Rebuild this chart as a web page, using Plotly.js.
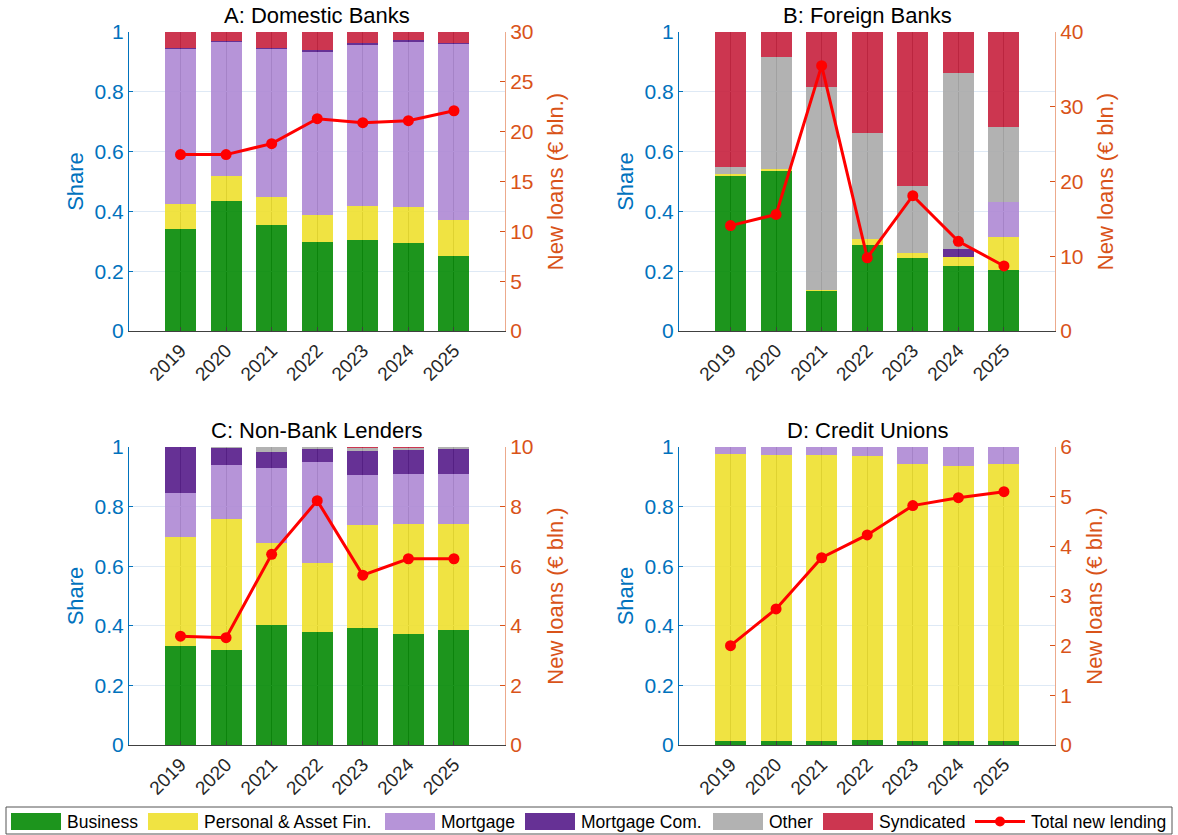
<!DOCTYPE html>
<html>
<head>
<meta charset="utf-8">
<script src="https://cdn.plot.ly/plotly-3.0.1.min.js"></script>
<style>
  html, body { margin: 0; padding: 0; background: #fff; }
  #chart { width: 1178px; height: 835px; }
</style>
</head>
<body>
<div id="chart"></div>
<script>
// ---- Data -------------------------------------------------------------
const years = ['2019', '2020', '2021', '2022', '2023', '2024', '2025'];

const seriesNames = ['Business', 'Personal & Asset Fin.', 'Mortgage', 'Mortgage Com.', 'Other', 'Syndicated'];
const lineName = 'Total new lending';

const panelTitles = ['A: Domestic Banks', 'B: Foreign Banks', 'C: Non-Bank Lenders', 'D: Credit Unions'];

// A: Domestic Banks (shares of new lending)
const domesticBusiness    = [0.341, 0.435, 0.355, 0.297, 0.304, 0.293, 0.250];
const domesticPersonal    = [0.085, 0.085, 0.093, 0.091, 0.114, 0.122, 0.120];
const domesticMortgage    = [0.517, 0.447, 0.494, 0.544, 0.539, 0.553, 0.589];
const domesticMortgageCom = [0.003, 0.003, 0.003, 0.007, 0.005, 0.005, 0.005];
const domesticOther       = [0, 0, 0, 0, 0, 0, 0];
const domesticSyndicated  = [0.054, 0.030, 0.055, 0.061, 0.038, 0.027, 0.036];
const domesticTotal       = [17.7, 17.7, 18.8, 21.3, 20.9, 21.1, 22.1];

// B: Foreign Banks
const foreignBusiness    = [0.520, 0.535, 0.135, 0.287, 0.245, 0.217, 0.204];
const foreignPersonal    = [0.005, 0.006, 0.003, 0.020, 0.017, 0.029, 0.109];
const foreignMortgage    = [0, 0, 0, 0.002, 0, 0, 0.120];
const foreignMortgageCom = [0, 0, 0, 0, 0, 0.029, 0];
const foreignOther       = [0.025, 0.374, 0.678, 0.352, 0.224, 0.587, 0.248];
const foreignSyndicated  = [0.450, 0.085, 0.184, 0.339, 0.514, 0.138, 0.319];
const foreignTotal       = [14.1, 15.6, 35.5, 9.8, 18.1, 12.0, 8.7];

// C: Non-Bank Lenders
const nonBankBusiness    = [0.331, 0.320, 0.402, 0.378, 0.392, 0.373, 0.387];
const nonBankPersonal    = [0.368, 0.438, 0.275, 0.232, 0.346, 0.367, 0.354];
const nonBankMortgage    = [0.146, 0.182, 0.251, 0.341, 0.168, 0.169, 0.168];
const nonBankMortgageCom = [0.155, 0.058, 0.054, 0.041, 0.082, 0.082, 0.083];
const nonBankOther       = [0, 0.002, 0.018, 0.008, 0.008, 0.005, 0.008];
const nonBankSyndicated  = [0, 0, 0, 0, 0.004, 0.004, 0];
const nonBankTotal       = [3.65, 3.6, 6.4, 8.2, 5.7, 6.25, 6.25];

// D: Credit Unions
const creditUnionBusiness    = [0.013, 0.013, 0.013, 0.016, 0.014, 0.014, 0.014];
const creditUnionPersonal    = [0.965, 0.961, 0.960, 0.955, 0.929, 0.921, 0.929];
const creditUnionMortgage    = [0.022, 0.026, 0.027, 0.029, 0.057, 0.065, 0.057];
const creditUnionMortgageCom = [0, 0, 0, 0, 0, 0, 0];
const creditUnionOther       = [0, 0, 0, 0, 0, 0, 0];
const creditUnionSyndicated  = [0, 0, 0, 0, 0, 0, 0];
const creditUnionTotal       = [2.0, 2.74, 3.77, 4.23, 4.82, 4.98, 5.1];

const rightAxisMax = [30, 40, 10, 6];
const rightAxisStep = [5, 10, 2, 1];

// ---- Styling ----------------------------------------------------------
const barColors = ['rgb(4,138,4)', 'rgb(238,224,45)', 'rgb(174,136,212)',
                   'rgb(85,27,138)', 'rgb(170,170,170)', 'rgb(198,32,61)'];
const barOpacity = 0.9;
const lineColor = 'rgb(255,0,0)';
const leftColor = 'rgb(0,114,189)';
const rightColor = 'rgb(217,83,25)';
const darkText = '#262626';
const fontFamily = '"Liberation Sans", Arial, Helvetica, sans-serif';

const W = 1178, H = 835;
const px = v => v / W;
const py = v => 1 - v / H;

const panels = [
  { shares: [domesticBusiness, domesticPersonal, domesticMortgage, domesticMortgageCom, domesticOther, domesticSyndicated], total: domesticTotal },
  { shares: [foreignBusiness, foreignPersonal, foreignMortgage, foreignMortgageCom, foreignOther, foreignSyndicated], total: foreignTotal },
  { shares: [nonBankBusiness, nonBankPersonal, nonBankMortgage, nonBankMortgageCom, nonBankOther, nonBankSyndicated], total: nonBankTotal },
  { shares: [creditUnionBusiness, creditUnionPersonal, creditUnionMortgage, creditUnionMortgageCom, creditUnionOther, creditUnionSyndicated], total: creditUnionTotal }
];

// plot-area boxes in pixels: [left, right, top, bottom]
const boxes = [
  [129, 505, 32, 331],
  [679, 1055, 32, 331],
  [129, 505, 447, 745],
  [679, 1055, 447, 745]
];

const traces = [];
const layout = {
  width: W, height: H,
  margin: { l: 0, r: 0, t: 0, b: 0, pad: 0 },
  paper_bgcolor: '#fff', plot_bgcolor: 'rgba(0,0,0,0)',
  barmode: 'stack', bargap: 0.32,
  showlegend: false,
  font: { family: fontFamily, size: 17, color: darkText },
  annotations: [], shapes: []
};

panels.forEach((p, i) => {
  const n = i + 1;
  const xa = 'x' + n, ya = 'y' + n, yr = 'y' + (n + 4);
  const xKey = 'xaxis' + n, yKey = 'yaxis' + n, yrKey = 'yaxis' + (n + 4);
  const [l, r, t, b] = boxes[i];

  p.shares.forEach((vals, k) => {
    traces.push({
      type: 'bar', x: years, y: vals, name: seriesNames[k],
      xaxis: xa, yaxis: ya,
      marker: { color: barColors[k], opacity: barOpacity, line: { width: 0 } },
      hoverinfo: 'skip'
    });
  });

  traces.push({
    type: 'scatter', mode: 'lines+markers', x: years, y: p.total, name: lineName,
    xaxis: xa, yaxis: yr,
    line: { color: lineColor, width: 3 },
    marker: { color: lineColor, size: 11 },
    hoverinfo: 'skip'
  });

  layout[xKey] = {
    domain: [px(l), px(r)], anchor: ya,
    type: 'category', range: [-1.13, 7.12],
    showline: true, linecolor: '#404040', linewidth: 1,
    ticks: 'inside', ticklen: 4, tickcolor: '#404040',
    tickangle: -45, tickfont: { size: 19, color: darkText },
    showgrid: true, gridcolor: 'rgb(80,80,80)', gridwidth: 1,
    zeroline: false, fixedrange: true
  };
  layout[yKey] = {
    domain: [py(b), py(t)], anchor: xa,
    range: [0, 1], tickvals: [0, 0.2, 0.4, 0.6, 0.8, 1],
    ticktext: ['0', '0.2', '0.4', '0.6', '0.8', '1'],
    showline: true, linecolor: leftColor, linewidth: 1,
    ticks: 'inside', ticklen: 4, tickcolor: leftColor,
    tickfont: { size: 21, color: leftColor },
    showgrid: true, gridcolor: 'rgb(222,233,245)', gridwidth: 1,
    zeroline: false, fixedrange: true,
    title: { text: 'Share', font: { size: 22, color: leftColor }, standoff: 4 }
  };
  const rMax = rightAxisMax[i], rStep = rightAxisStep[i];
  const rTicks = [];
  for (let v = 0; v <= rMax; v += rStep) rTicks.push(v);
  layout[yrKey] = {
    overlaying: ya, anchor: xa, side: 'right',
    range: [0, rMax], tickvals: rTicks,
    showline: true, linecolor: 'rgb(236,170,140)', linewidth: 1,
    ticks: 'inside', ticklen: 5, tickcolor: rightColor,
    tickfont: { size: 21, color: rightColor },
    showgrid: false, zeroline: false, fixedrange: true,
    title: { text: 'New loans (€ bln.)', font: { size: 22, color: rightColor }, standoff: 15 }
  };

  layout.annotations.push({
    xref: 'paper', yref: 'paper', x: px((l + r) / 2), y: py(t - 2),
    xanchor: 'center', yanchor: 'bottom', showarrow: false,
    text: panelTitles[i], font: { size: 22, color: '#000' }
  });
});

// ---- Legend box along the bottom ----------------------------------------
const legendLeft = [11, 148, 385, 525, 713, 823, 975];
const iconW = 50, iconTop = 813, iconBottom = 830;
layout.shapes.push({
  type: 'rect', xref: 'paper', yref: 'paper',
  x0: px(6), x1: px(1172), y0: py(834), y1: py(807),
  line: { color: '#555', width: 1 }, fillcolor: 'rgba(0,0,0,0)'
});
seriesNames.concat([lineName]).forEach((name, k) => {
  const x0 = legendLeft[k];
  if (k < seriesNames.length) {
    layout.shapes.push({
      type: 'rect', xref: 'paper', yref: 'paper',
      x0: px(x0), x1: px(x0 + iconW), y0: py(iconBottom), y1: py(iconTop),
      line: { width: 0 }, fillcolor: barColors[k], opacity: barOpacity
    });
  } else {
    const yc = (iconTop + iconBottom) / 2;
    layout.shapes.push({
      type: 'line', xref: 'paper', yref: 'paper',
      x0: px(x0), x1: px(x0 + iconW), y0: py(yc), y1: py(yc),
      line: { color: lineColor, width: 3 }
    });
    layout.shapes.push({
      type: 'circle', xref: 'paper', yref: 'paper',
      x0: px(x0 + iconW / 2 - 5), x1: px(x0 + iconW / 2 + 5),
      y0: py(yc + 5), y1: py(yc - 5),
      line: { width: 0 }, fillcolor: lineColor
    });
  }
  layout.annotations.push({
    xref: 'paper', yref: 'paper', x: px(x0 + iconW + 4), y: py((iconTop + iconBottom) / 2),
    xanchor: 'left', yanchor: 'middle', showarrow: false,
    text: name, font: { size: 17.5, color: '#000' }
  });
});

Plotly.newPlot('chart', traces, layout, { staticPlot: true, displayModeBar: false });
</script>
</body>
</html>
